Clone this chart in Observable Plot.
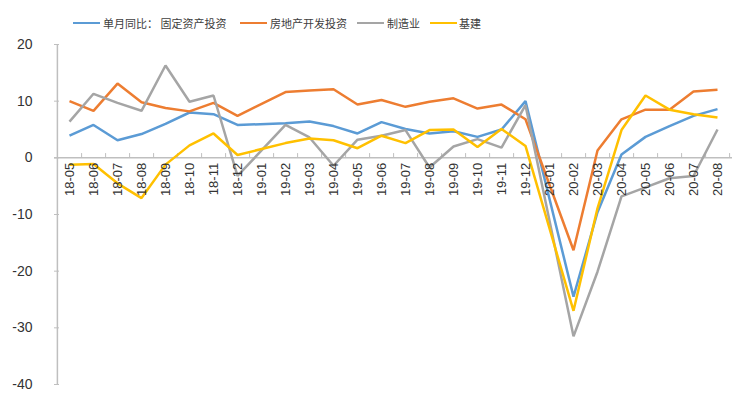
<!DOCTYPE html>
<html>
<head>
<meta charset="utf-8">
<script src="https://cdn.jsdelivr.net/npm/d3@7"></script>
<script src="https://cdn.jsdelivr.net/npm/@observablehq/plot@0.6"></script>
<style>
  html, body { margin: 0; padding: 0; background: #fff; }
  #wrap { width: 756px; height: 394px; position: relative; overflow: hidden; }
  #legend { position: relative; width: 756px; height: 36px; font-family: "Noto Sans CJK SC", "Liberation Sans", sans-serif; font-size: 11px; color: #404040; }
  .lg-line { position: absolute; top: 21.5px; width: 27px; height: 2.5px; }
  .lg-text { position: absolute; top: 15px; line-height: 16px; white-space: pre; }
  svg { display: block; }
</style>
</head>
<body>
<div id="wrap">
  <div id="legend"></div>
  <div id="chart"></div>
</div>
<script>
const categories = ["18-05","18-06","18-07","18-08","18-09","18-10","18-11","18-12","19-01","19-02","19-03","19-04","19-05","19-06","19-07","19-08","19-09","19-10","19-11","19-12","20-01","20-02","20-03","20-04","20-05","20-06","20-07","20-08"];
const seriesNames = ["单月同比： 固定资产投资", "房地产开发投资", "制造业", "基建"];
const fixedAsset = [3.9, 5.8, 3.1, 4.2, 6.0, 8.0, 7.7, 5.8, null, 6.1, 6.4, 5.6, 4.3, 6.3, 5.1, 4.3, 4.7, 3.7, 5.0, 10.0, null, -24.5, -9.6, 0.6, 3.7, 5.6, 7.4, 8.6];
const realEstate = [10.0, 8.3, 13.1, 9.8, 8.8, 8.2, 9.7, 7.4, null, 11.6, 11.9, 12.1, 9.4, 10.2, 9.0, 9.9, 10.5, 8.7, 9.4, 6.8, null, -16.3, 1.3, 6.8, 8.5, 8.5, 11.7, 12.0];
const manufacturing = [6.4, 11.3, 9.7, 8.3, 16.3, 9.9, 11.0, -3.2, null, 5.8, 3.6, -1.4, 3.2, 3.9, 4.9, -1.7, 2.0, 3.3, 1.8, 9.3, null, -31.5, -20.1, -6.8, -5.2, -3.6, -3.2, 5.0];
const infrastructure = [-1.2, -1.1, -4.5, -7.1, -1.2, 2.2, 4.3, 0.5, null, 2.6, 3.4, 3.1, 1.7, 3.9, 2.6, 4.9, 5.0, 1.9, 5.1, 2.1, null, -27.0, -8.9, 4.9, 11.0, 8.5, 7.7, 7.1];
const yTicks = [-40, -30, -20, -10, 0, 10, 20];
const colors = ["#5B9BD5", "#ED7D31", "#A5A5A5", "#FFC000"];

const seriesValues = [fixedAsset, realEstate, manufacturing, infrastructure];
const rows = seriesValues.map(vals =>
  categories.map((c, i) => ({cat: c, value: vals[i]})).filter(d => d.value != null)
);

// legend
const legendPos = [
  {line: 73, text: 103},
  {line: 240, text: 270},
  {line: 357, text: 387},
  {line: 430, text: 459}
];
const legend = document.getElementById("legend");
seriesNames.forEach((name, i) => {
  const l = document.createElement("div");
  l.className = "lg-line";
  l.style.left = legendPos[i].line + "px";
  l.style.background = colors[i];
  legend.appendChild(l);
  const t = document.createElement("div");
  t.className = "lg-text";
  t.style.left = legendPos[i].text + "px";
  t.textContent = name;
  legend.appendChild(t);
});

const W = 756, H = 358, ML = 54, MR = 24;
const step = (W - ML - MR) / categories.length;
const axisColor = "#BFBFBF";

const chart = Plot.plot({
  width: W,
  height: H,
  marginLeft: ML,
  marginRight: MR,
  marginTop: 8,
  marginBottom: 10,
  style: {fontFamily: "'Liberation Sans', Arial, sans-serif", background: "#fff"},
  x: {type: "point", domain: categories, padding: 0.5, axis: null},
  y: {domain: [-40, 20], axis: null},
  marks: [
    // y axis line
    Plot.ruleX([categories[0]], {y1: -40, y2: 20, dx: -step / 2, stroke: axisColor, strokeWidth: 1.5}),
    // y ticks and labels
    Plot.axisY({ticks: yTicks, label: null, tickSize: 5, dx: 5, tickPadding: 22, stroke: axisColor, strokeWidth: 1, fontSize: 14, fill: "#333", tickFormat: d => String(d)}),
    // x axis line at zero
    Plot.ruleY([0], {stroke: axisColor, strokeWidth: 1.5}),
    // x tick marks between categories
    Plot.ruleX(categories, {x: d => d, y1: 0, y2: 0.75, dx: step / 2, stroke: axisColor, strokeWidth: 1}),
    // lines
    ...rows.map((r, i) => Plot.line(r, {x: "cat", y: "value", stroke: colors[i], strokeWidth: 2.5, strokeLinejoin: "miter", strokeLinecap: "butt"})),
    // x labels
    Plot.text(categories, {x: d => d, y: 0, text: d => d, rotate: -90, textAnchor: "end", dy: 5, fontSize: 13, fill: "#333"})
  ]
});
document.getElementById("chart").appendChild(chart);
</script>
</body>
</html>
